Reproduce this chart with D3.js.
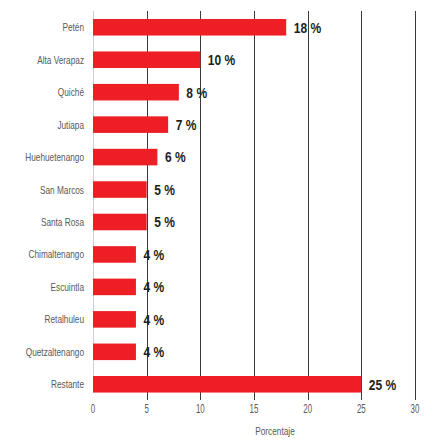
<!DOCTYPE html>
<html><head><meta charset="utf-8">
<script src="https://cdn.jsdelivr.net/npm/d3@7"></script>
<style>
html,body{margin:0;padding:0;background:#fff;}
svg{display:block;}
text{font-family:"Liberation Sans",Arial,sans-serif;}
</style></head>
<body><svg id="c" width="443" height="444"></svg>
<script>
const categories = ["Petén","Alta Verapaz","Quiché","Jutiapa","Huehuetenango","San Marcos","Santa Rosa","Chimaltenango","Escuintla","Retalhuleu","Quetzaltenango","Restante"];
const values = [18,10,8,7,6,5,5,4,4,4,4,25];
const valueLabels = ["18 %","10 %","8 %","7 %","6 %","5 %","5 %","4 %","4 %","4 %","4 %","25 %"];
const xTicks = [0,5,10,15,20,25,30];
const xTitle = "Porcentaje";

const svg = d3.select("#c");
const x = d3.scaleLinear().domain([0,30]).range([93,415]);
const y = d3.scaleBand().domain(categories).range([11.05,400.5]).paddingInner(0.49).paddingOuter(0.245);
const gridTop = 11, gridBottom = 400;
const SX = 0.75;

// gridlines
svg.append("g").selectAll("line").data(xTicks).join("line")
  .attr("x1",d=>Math.round(x(d))+0.5).attr("x2",d=>Math.round(x(d))+0.5)
  .attr("y1",gridTop).attr("y2",d=>d===0?393:gridBottom)
  .attr("stroke",d=>d===0?"#cfcfcf":"#3a3a3a").attr("stroke-width",1);

// bars
svg.append("g").selectAll("rect").data(values).join("rect")
  .attr("x",x(0)).attr("y",(d,i)=>y(categories[i]))
  .attr("width",d=>x(d)-x(0)).attr("height",y.bandwidth())
  .attr("fill","#ed1f24");

// value labels
svg.append("g").selectAll("text").data(values).join("text")
  .attr("transform",(d,i)=>`translate(${x(d)+7.5},${y(categories[i])+y.bandwidth()/2}) scale(0.83,1)`)
  .attr("dy","0.37em")
  .attr("font-size",14.5).attr("font-weight","bold").attr("fill","#231f20")
  .text((d,i)=>valueLabels[i]);

// category labels
svg.append("g").selectAll("text").data(categories).join("text")
  .attr("transform",d=>`translate(84,${y(d)+y.bandwidth()/2}) scale(${SX},1)`)
  .attr("dy","0.36em").attr("text-anchor","end")
  .attr("font-size",11).attr("fill","#58595b")
  .text(d=>d);

// x tick labels
svg.append("g").selectAll("text").data(xTicks).join("text")
  .attr("transform",d=>`translate(${x(d)},408.5) scale(0.66,1)`)
  .attr("dy","0.36em")
  .attr("text-anchor","middle").attr("font-size",12).attr("fill","#58595b")
  .text(d=>d);

svg.append("text")
  .attr("transform",`translate(275,431) scale(0.72,1)`)
  .attr("dy","0.36em")
  .attr("text-anchor","middle").attr("font-size",11.5).attr("fill","#58595b")
  .text(xTitle);
</script></body></html>
